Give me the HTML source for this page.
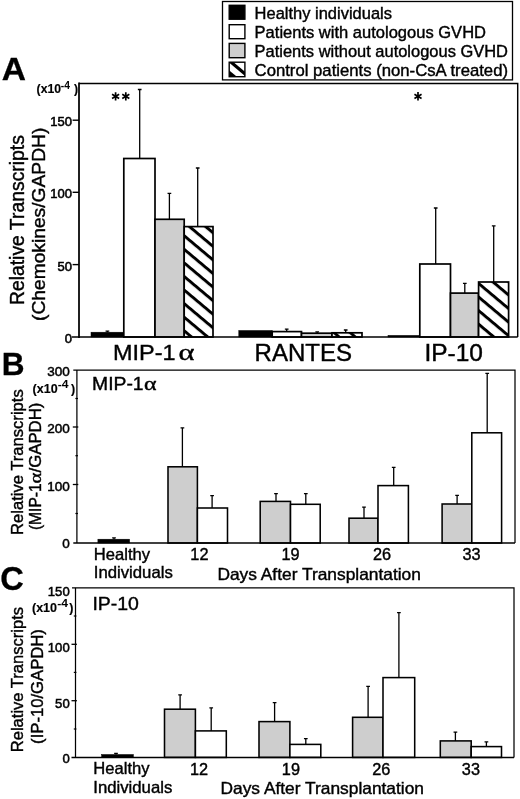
<!DOCTYPE html>
<html><head><meta charset="utf-8"><title>Figure</title>
<style>html,body{margin:0;padding:0;background:#fff;}svg{display:block;filter:grayscale(1);}text{font-family:"Liberation Sans",sans-serif;fill:#000;}</style>
</head><body>
<svg width="520" height="799" viewBox="0 0 520 799">
<defs>
<pattern id="h1" patternUnits="userSpaceOnUse" width="10.4" height="10.4" patternTransform="translate(184.1 235.7) rotate(40) translate(0 -1.475)"><rect x="0" y="0" width="10.4" height="10.4" fill="#fff"/><rect x="0" y="0" width="10.4" height="2.95" fill="#000"/></pattern>
<pattern id="h2" patternUnits="userSpaceOnUse" width="10.4" height="10.4" patternTransform="translate(332.0 331.0) rotate(40) translate(0 -1.475)"><rect x="0" y="0" width="10.4" height="10.4" fill="#fff"/><rect x="0" y="0" width="10.4" height="2.95" fill="#000"/></pattern>
<pattern id="h3" patternUnits="userSpaceOnUse" width="10.4" height="10.4" patternTransform="translate(478.65 283.5) rotate(40) translate(0 -1.475)"><rect x="0" y="0" width="10.4" height="10.4" fill="#fff"/><rect x="0" y="0" width="10.4" height="2.95" fill="#000"/></pattern>
</defs>
<rect x="0" y="0" width="520" height="799" fill="#fff"/>
<rect x="222.5" y="1.5" width="290" height="78.4" fill="#fff" stroke="#000" stroke-width="1.3"/>
<rect x="229.2" y="5.3" width="15.700000000000017" height="13.9" fill="#000" stroke="#000" stroke-width="1.4"/>
<rect x="229.2" y="24.7" width="15.700000000000017" height="14.0" fill="#fff" stroke="#000" stroke-width="1.4"/>
<rect x="229.2" y="43.4" width="15.700000000000017" height="14.3" fill="#cecece" stroke="#000" stroke-width="1.4"/>
<g><clipPath id="sw4"><rect x="229.2" y="62.2" width="15.700000000000017" height="14.5"/></clipPath><rect x="229.2" y="62.2" width="15.700000000000017" height="14.5" fill="#fff"/><g clip-path="url(#sw4)"><path d="M229 60.5 L246 74.8" stroke="#000" stroke-width="3.2"/><path d="M228 69.5 L238.5 78 L228 78Z" fill="#000"/></g><rect x="229.2" y="62.2" width="15.700000000000017" height="14.5" fill="none" stroke="#000" stroke-width="1.4"/></g>
<text x="254.60" y="18.80" font-size="16.3" text-anchor="start" font-weight="normal" textLength="137.40" lengthAdjust="spacingAndGlyphs" stroke="#000" stroke-width="0.4">Healthy individuals</text>
<text x="254.60" y="37.80" font-size="16.3" text-anchor="start" font-weight="normal" textLength="231.40" lengthAdjust="spacingAndGlyphs" stroke="#000" stroke-width="0.4">Patients with autologous GVHD</text>
<text x="254.60" y="56.90" font-size="16.3" text-anchor="start" font-weight="normal" textLength="253.40" lengthAdjust="spacingAndGlyphs" stroke="#000" stroke-width="0.4">Patients without autologous GVHD</text>
<text x="254.60" y="76.10" font-size="16.3" text-anchor="start" font-weight="normal" textLength="253.40" lengthAdjust="spacingAndGlyphs" stroke="#000" stroke-width="0.4">Control patients (non-CsA treated)</text>
<text x="1.80" y="79.80" font-size="31.6" text-anchor="start" font-weight="bold" textLength="24.20" lengthAdjust="spacingAndGlyphs" stroke="#000" stroke-width="0.3">A</text>
<text x="1.70" y="375.00" font-size="31.6" text-anchor="start" font-weight="bold" stroke="#000" stroke-width="0.3">B</text>
<text x="0.30" y="590.00" font-size="32.6" text-anchor="start" font-weight="bold" stroke="#000" stroke-width="0.3">C</text>
<path d="M107.40 332.20V331.20M105.55 331.20H109.25" stroke="#000" stroke-width="1.3" fill="none"/>
<rect x="91.00" y="332.20" width="32.80" height="4.80" fill="#000" stroke="#000" stroke-width="0.5"/>
<path d="M139.70 158.50V89.50M137.85 89.50H141.55" stroke="#000" stroke-width="1.3" fill="none"/>
<rect x="123.80" y="158.50" width="31.20" height="178.50" fill="#fff" stroke="#000" stroke-width="1.7"/>
<path d="M169.40 219.30V193.40M167.55 193.40H171.25" stroke="#000" stroke-width="1.3" fill="none"/>
<rect x="155.00" y="219.30" width="29.20" height="117.70" fill="#cecece" stroke="#000" stroke-width="1.7"/>
<path d="M197.70 226.60V168.00M195.85 168.00H199.55" stroke="#000" stroke-width="1.3" fill="none"/>
<rect x="184.20" y="226.60" width="28.80" height="110.40" fill="url(#h1)" stroke="#000" stroke-width="1.7"/>
<rect x="238.80" y="330.50" width="33.40" height="6.50" fill="#000" stroke="#000" stroke-width="0.5"/>
<path d="M286.70 331.60V329.20M284.85 329.20H288.55" stroke="#000" stroke-width="1.3" fill="none"/>
<rect x="272.20" y="331.60" width="29.30" height="5.40" fill="#fff" stroke="#000" stroke-width="1.7"/>
<path d="M317.20 333.20V331.80M315.35 331.80H319.05" stroke="#000" stroke-width="1.3" fill="none"/>
<rect x="301.50" y="333.20" width="30.50" height="3.80" fill="#cecece" stroke="#000" stroke-width="1.7"/>
<path d="M345.70 332.80V330.00M343.85 330.00H347.55" stroke="#000" stroke-width="1.3" fill="none"/>
<rect x="332.00" y="332.80" width="30.00" height="4.20" fill="url(#h2)" stroke="#000" stroke-width="1.7"/>
<rect x="388.00" y="335.40" width="31.80" height="1.60" fill="#000" stroke="#000" stroke-width="0.5"/>
<path d="M435.70 264.00V208.00M433.85 208.00H437.55" stroke="#000" stroke-width="1.3" fill="none"/>
<rect x="419.80" y="264.00" width="30.70" height="73.00" fill="#fff" stroke="#000" stroke-width="1.7"/>
<path d="M464.80 293.10V283.40M462.95 283.40H466.65" stroke="#000" stroke-width="1.3" fill="none"/>
<rect x="450.50" y="293.10" width="28.00" height="43.90" fill="#cecece" stroke="#000" stroke-width="1.7"/>
<path d="M493.70 282.00V225.80M491.85 225.80H495.55" stroke="#000" stroke-width="1.3" fill="none"/>
<rect x="478.60" y="282.00" width="30.00" height="55.00" fill="url(#h3)" stroke="#000" stroke-width="1.7"/>
<path d="M79.0 337.0V83.4" stroke="#000" stroke-width="1.75" fill="none" stroke-linecap="square"/>
<path d="M79.0 83.4H517.7V337.0" stroke="#000" stroke-width="1.45" fill="none"/>
<path d="M72 337.0H517.7" stroke="#000" stroke-width="1.5" fill="none"/>
<path d="M72.6 120.2H79.0" stroke="#000" stroke-width="1.4"/>
<path d="M72.6 192.3H79.0" stroke="#000" stroke-width="1.4"/>
<path d="M72.6 264.6H79.0" stroke="#000" stroke-width="1.4"/>
<text x="72.00" y="126.00" font-size="13" text-anchor="end" font-weight="normal" stroke="#000" stroke-width="0.55">150</text>
<text x="72.00" y="198.10" font-size="13" text-anchor="end" font-weight="normal" stroke="#000" stroke-width="0.55">100</text>
<text x="72.00" y="271.10" font-size="13" text-anchor="end" font-weight="normal" stroke="#000" stroke-width="0.55">50</text>
<text x="72.00" y="342.60" font-size="13" text-anchor="end" font-weight="normal" stroke="#000" stroke-width="0.55">0</text>
<text x="36.60" y="93.20" font-size="12.2" text-anchor="start" font-weight="bold" stroke="#000" stroke-width="0.15">(x10</text>
<text x="60.80" y="89.20" font-size="10.3" text-anchor="start" font-weight="bold">-4</text>
<text x="74.00" y="93.20" font-size="12.2" text-anchor="start" font-weight="bold" stroke="#000" stroke-width="0.15">)</text>
<text transform="translate(23.70 305.10) rotate(-90)" font-size="19.3" textLength="170.00" lengthAdjust="spacingAndGlyphs" stroke="#000" stroke-width="0.4">Relative Transcripts</text>
<text transform="translate(45.30 321.00) rotate(-90)" font-size="19.2" textLength="193.30" lengthAdjust="spacingAndGlyphs" stroke="#000" stroke-width="0.4">(Chemokines/GAPDH)</text>
<path d="M115.60 92.20L115.60 100.60M112.04 94.30L119.16 98.50M119.16 94.30L112.04 98.50" stroke="#000" stroke-width="1.7" fill="none"/>
<path d="M125.80 92.20L125.80 100.60M122.24 94.30L129.36 98.50M129.36 94.30L122.24 98.50" stroke="#000" stroke-width="1.7" fill="none"/>
<path d="M418.00 92.10L418.00 100.50M414.44 94.20L421.56 98.40M421.56 94.20L414.44 98.40" stroke="#000" stroke-width="1.7" fill="none"/>
<text x="113.00" y="360.00" font-size="22.7" text-anchor="start" font-weight="normal" textLength="62.50" lengthAdjust="spacingAndGlyphs" stroke="#000" stroke-width="0.4">MIP-1</text>
<text transform="translate(178.6 360.2) scale(1.27 1)" font-size="24" style="font-family:'Liberation Serif',serif" stroke="#000" stroke-width="0.4">α</text>
<text x="254.60" y="360.70" font-size="23" text-anchor="start" font-weight="normal" textLength="97.50" lengthAdjust="spacingAndGlyphs" stroke="#000" stroke-width="0.4">RANTES</text>
<text x="424.40" y="360.70" font-size="23.3" text-anchor="start" font-weight="normal" textLength="58.50" lengthAdjust="spacingAndGlyphs" stroke="#000" stroke-width="0.4">IP-10</text>
<path d="M114.00 539.20V537.80M112.15 537.80H115.85" stroke="#000" stroke-width="1.3" fill="none"/>
<rect x="97.90" y="539.20" width="31.70" height="3.80" fill="#000" stroke="#000" stroke-width="0.5"/>
<path d="M182.40 466.80V427.90M180.55 427.90H184.25" stroke="#000" stroke-width="1.3" fill="none"/>
<rect x="168.00" y="466.80" width="29.40" height="76.20" fill="#cecece" stroke="#000" stroke-width="1.55"/>
<path d="M212.10 508.00V495.70M210.25 495.70H213.95" stroke="#000" stroke-width="1.3" fill="none"/>
<rect x="197.40" y="508.00" width="30.10" height="35.00" fill="#fff" stroke="#000" stroke-width="1.55"/>
<path d="M276.00 501.40V493.60M274.15 493.60H277.85" stroke="#000" stroke-width="1.3" fill="none"/>
<rect x="260.20" y="501.40" width="30.30" height="41.60" fill="#cecece" stroke="#000" stroke-width="1.55"/>
<path d="M305.80 504.30V493.60M303.95 493.60H307.65" stroke="#000" stroke-width="1.3" fill="none"/>
<rect x="290.50" y="504.30" width="29.70" height="38.70" fill="#fff" stroke="#000" stroke-width="1.55"/>
<path d="M364.00 518.20V507.20M362.15 507.20H365.85" stroke="#000" stroke-width="1.3" fill="none"/>
<rect x="349.00" y="518.20" width="29.00" height="24.80" fill="#cecece" stroke="#000" stroke-width="1.55"/>
<path d="M393.70 485.60V467.40M391.85 467.40H395.55" stroke="#000" stroke-width="1.3" fill="none"/>
<rect x="378.00" y="485.60" width="30.40" height="57.40" fill="#fff" stroke="#000" stroke-width="1.55"/>
<path d="M457.10 504.00V495.40M455.25 495.40H458.95" stroke="#000" stroke-width="1.3" fill="none"/>
<rect x="442.10" y="504.00" width="29.70" height="39.00" fill="#cecece" stroke="#000" stroke-width="1.55"/>
<path d="M487.20 432.80V373.40M485.35 373.40H489.05" stroke="#000" stroke-width="1.3" fill="none"/>
<rect x="471.80" y="432.80" width="29.80" height="110.20" fill="#fff" stroke="#000" stroke-width="1.55"/>
<path d="M73.3 370.0H515.0V543.0" stroke="#000" stroke-width="1.25" fill="none"/>
<path d="M76.9 370.0V543.0" stroke="#000" stroke-width="1.25" fill="none"/>
<path d="M73.3 543.0H515.0" stroke="#000" stroke-width="1.5" fill="none"/>
<path d="M72.8 427.0H78.3" stroke="#000" stroke-width="1.3"/>
<path d="M72.8 484.5H78.3" stroke="#000" stroke-width="1.3"/>
<path d="M75.4 398.5H78.0" stroke="#000" stroke-width="1.2"/>
<path d="M75.4 455.7H78.0" stroke="#000" stroke-width="1.2"/>
<path d="M75.4 513.5H78.0" stroke="#000" stroke-width="1.2"/>
<text x="69.80" y="376.40" font-size="13.5" text-anchor="end" font-weight="normal" stroke="#000" stroke-width="0.5">300</text>
<text x="69.80" y="433.00" font-size="13.5" text-anchor="end" font-weight="normal" stroke="#000" stroke-width="0.5">200</text>
<text x="69.80" y="490.50" font-size="13.5" text-anchor="end" font-weight="normal" stroke="#000" stroke-width="0.5">100</text>
<text x="69.80" y="548.20" font-size="13.5" text-anchor="end" font-weight="normal" stroke="#000" stroke-width="0.5">0</text>
<text x="32.60" y="392.80" font-size="12.5" text-anchor="start" font-weight="bold" stroke="#000" stroke-width="0.15">(x10</text>
<text x="57.80" y="388.20" font-size="10.5" text-anchor="start" font-weight="bold" textLength="10.80" lengthAdjust="spacingAndGlyphs">-4</text>
<text x="70.90" y="392.80" font-size="12.5" text-anchor="start" font-weight="bold" stroke="#000" stroke-width="0.15">)</text>
<text transform="translate(22.70 534.90) rotate(-90)" font-size="16.4" textLength="145.60" lengthAdjust="spacingAndGlyphs" stroke="#000" stroke-width="0.4">Relative Transcripts</text>
<text transform="translate(41.00 530.10) rotate(-90)" font-size="16.3" textLength="46.80" lengthAdjust="spacingAndGlyphs" stroke="#000" stroke-width="0.4">(MIP-1</text>
<text transform="translate(41.1 483.5) rotate(-90) scale(1.22 1)" font-size="17" style="font-family:'Liberation Serif',serif" stroke="#000" stroke-width="0.4">α</text>
<text transform="translate(41.00 472.40) rotate(-90)" font-size="16.3" textLength="69.80" lengthAdjust="spacingAndGlyphs" stroke="#000" stroke-width="0.4">/GAPDH)</text>
<text x="92.10" y="390.10" font-size="18.3" text-anchor="start" font-weight="normal" textLength="51.50" lengthAdjust="spacingAndGlyphs" stroke="#000" stroke-width="0.4">MIP-1</text>
<text transform="translate(144.0 390.3) scale(1.27 1)" font-size="18.8" style="font-family:'Liberation Serif',serif" stroke="#000" stroke-width="0.4">α</text>
<text x="93.80" y="559.90" font-size="16.5" text-anchor="start" font-weight="normal" textLength="56.20" lengthAdjust="spacingAndGlyphs" stroke="#000" stroke-width="0.4">Healthy</text>
<text x="93.80" y="578.00" font-size="16.5" text-anchor="start" font-weight="normal" textLength="79.00" lengthAdjust="spacingAndGlyphs" stroke="#000" stroke-width="0.4">Individuals</text>
<text x="199.40" y="559.60" font-size="16.3" text-anchor="middle" font-weight="normal" stroke="#000" stroke-width="0.4">12</text>
<text x="290.60" y="559.60" font-size="16.3" text-anchor="middle" font-weight="normal" stroke="#000" stroke-width="0.4">19</text>
<text x="382.10" y="559.60" font-size="16.3" text-anchor="middle" font-weight="normal" stroke="#000" stroke-width="0.4">26</text>
<text x="471.50" y="559.60" font-size="16.3" text-anchor="middle" font-weight="normal" stroke="#000" stroke-width="0.4">33</text>
<text x="217.40" y="579.60" font-size="16.5" text-anchor="start" font-weight="normal" textLength="203.50" lengthAdjust="spacingAndGlyphs" stroke="#000" stroke-width="0.4">Days After Transplantation</text>
<path d="M116.00 754.50V753.40M114.15 753.40H117.85" stroke="#000" stroke-width="1.3" fill="none"/>
<rect x="101.60" y="754.50" width="31.80" height="2.90" fill="#000" stroke="#000" stroke-width="0.5"/>
<path d="M180.10 709.20V694.80M178.25 694.80H181.95" stroke="#000" stroke-width="1.3" fill="none"/>
<rect x="164.50" y="709.20" width="30.90" height="48.20" fill="#cecece" stroke="#000" stroke-width="1.55"/>
<path d="M211.20 730.90V707.80M209.35 707.80H213.05" stroke="#000" stroke-width="1.3" fill="none"/>
<rect x="195.40" y="730.90" width="30.90" height="26.50" fill="#fff" stroke="#000" stroke-width="1.55"/>
<path d="M274.60 721.60V702.60M272.75 702.60H276.45" stroke="#000" stroke-width="1.3" fill="none"/>
<rect x="259.00" y="721.60" width="30.90" height="35.80" fill="#cecece" stroke="#000" stroke-width="1.55"/>
<path d="M305.80 744.40V738.60M303.95 738.60H307.65" stroke="#000" stroke-width="1.3" fill="none"/>
<rect x="289.90" y="744.40" width="30.90" height="13.00" fill="#fff" stroke="#000" stroke-width="1.55"/>
<path d="M368.10 717.30V686.40M366.25 686.40H369.95" stroke="#000" stroke-width="1.3" fill="none"/>
<rect x="352.60" y="717.30" width="30.40" height="40.10" fill="#cecece" stroke="#000" stroke-width="1.55"/>
<path d="M398.90 677.60V612.60M397.05 612.60H400.75" stroke="#000" stroke-width="1.3" fill="none"/>
<rect x="383.00" y="677.60" width="31.70" height="79.80" fill="#fff" stroke="#000" stroke-width="1.55"/>
<path d="M455.40 740.90V732.10M453.55 732.10H457.25" stroke="#000" stroke-width="1.3" fill="none"/>
<rect x="440.30" y="740.90" width="30.90" height="16.50" fill="#cecece" stroke="#000" stroke-width="1.55"/>
<path d="M486.40 746.60V741.90M484.55 741.90H488.25" stroke="#000" stroke-width="1.3" fill="none"/>
<rect x="471.20" y="746.60" width="30.30" height="10.80" fill="#fff" stroke="#000" stroke-width="1.55"/>
<path d="M72 587.8H514.0V757.4" stroke="#000" stroke-width="1.25" fill="none"/>
<path d="M75.5 587.8V757.4" stroke="#000" stroke-width="1.25" fill="none"/>
<path d="M71.5 757.4H514.0" stroke="#000" stroke-width="1.5" fill="none"/>
<path d="M71.5 644.3H76.9" stroke="#000" stroke-width="1.3"/>
<path d="M71.5 700.7H76.9" stroke="#000" stroke-width="1.3"/>
<path d="M73.8 616.0H76.4" stroke="#000" stroke-width="1.2"/>
<path d="M73.8 672.4H76.4" stroke="#000" stroke-width="1.2"/>
<path d="M73.8 729.0H76.4" stroke="#000" stroke-width="1.2"/>
<text x="69.70" y="596.30" font-size="13.1" text-anchor="end" font-weight="normal" stroke="#000" stroke-width="0.5">150</text>
<text x="69.70" y="651.60" font-size="13.1" text-anchor="end" font-weight="normal" stroke="#000" stroke-width="0.5">100</text>
<text x="69.70" y="707.60" font-size="13.1" text-anchor="end" font-weight="normal" stroke="#000" stroke-width="0.5">50</text>
<text x="69.70" y="763.30" font-size="13.1" text-anchor="end" font-weight="normal" stroke="#000" stroke-width="0.5">0</text>
<text x="32.00" y="611.80" font-size="12.5" text-anchor="start" font-weight="bold" stroke="#000" stroke-width="0.15">(x10</text>
<text x="57.20" y="607.40" font-size="10.5" text-anchor="start" font-weight="bold" textLength="10.80" lengthAdjust="spacingAndGlyphs">-4</text>
<text x="69.30" y="611.80" font-size="12.5" text-anchor="start" font-weight="bold" stroke="#000" stroke-width="0.15">)</text>
<text transform="translate(23.30 752.20) rotate(-90)" font-size="16.3" textLength="145.20" lengthAdjust="spacingAndGlyphs" stroke="#000" stroke-width="0.4">Relative Transcripts</text>
<text transform="translate(43.30 743.90) rotate(-90)" font-size="16.4" textLength="114.80" lengthAdjust="spacingAndGlyphs" stroke="#000" stroke-width="0.4">(IP-10/GAPDH)</text>
<text x="92.40" y="609.80" font-size="18.3" text-anchor="start" font-weight="normal" textLength="46.50" lengthAdjust="spacingAndGlyphs" stroke="#000" stroke-width="0.4">IP-10</text>
<text x="93.30" y="774.10" font-size="16.5" text-anchor="start" font-weight="normal" textLength="56.20" lengthAdjust="spacingAndGlyphs" stroke="#000" stroke-width="0.4">Healthy</text>
<text x="93.30" y="792.50" font-size="16.5" text-anchor="start" font-weight="normal" textLength="79.00" lengthAdjust="spacingAndGlyphs" stroke="#000" stroke-width="0.4">Individuals</text>
<text x="199.00" y="774.90" font-size="16.3" text-anchor="middle" font-weight="normal" stroke="#000" stroke-width="0.4">12</text>
<text x="290.90" y="774.90" font-size="16.3" text-anchor="middle" font-weight="normal" stroke="#000" stroke-width="0.4">19</text>
<text x="381.20" y="774.90" font-size="16.3" text-anchor="middle" font-weight="normal" stroke="#000" stroke-width="0.4">26</text>
<text x="470.90" y="774.90" font-size="16.3" text-anchor="middle" font-weight="normal" stroke="#000" stroke-width="0.4">33</text>
<text x="220.50" y="793.70" font-size="16.5" text-anchor="start" font-weight="normal" textLength="203.50" lengthAdjust="spacingAndGlyphs" stroke="#000" stroke-width="0.4">Days After Transplantation</text>
</svg></body></html>
